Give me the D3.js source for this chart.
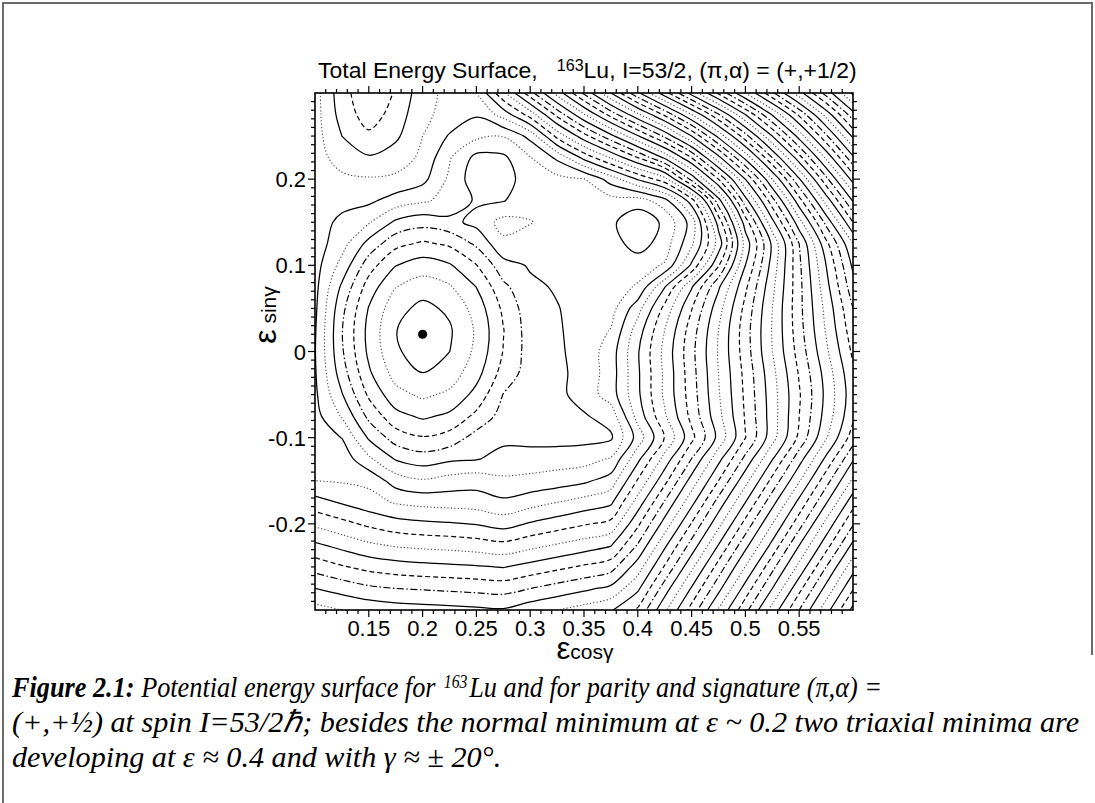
<!DOCTYPE html>
<html><head><meta charset="utf-8">
<script src="https://cdn.jsdelivr.net/npm/d3@7"></script>
<style>body{margin:0;background:#fff} svg{display:block} text{white-space:pre}</style>
</head><body>
<svg id="c" width="1095" height="803"></svg>
<script>
// ---------------- data ----------------
const xGrid = [0.100,0.125,0.150,0.175,0.200,0.225,0.250,0.275,0.300,0.325,0.350,0.375,0.400,0.425,0.450,0.475,0.500,0.525,0.550,0.575,0.600];
const yGrid = [0.300,0.275,0.250,0.225,0.200,0.175,0.150,0.125,0.100,0.075,0.050,0.025,0.000,-0.025,-0.050,-0.075,-0.100,-0.125,-0.150,-0.175,-0.200,-0.225,-0.250,-0.275,-0.300];
// relative total energy (in units of the contour spacing); rows follow yGrid, columns follow xGrid
const energyGrid = [
 [8.6,10.6,11.8,10.9,9.4,8.7,9.0,11.8,14.6,17.4,20.2,23.0,25.8,28.6,31.4,34.2,37.0,39.8,42.6,45.4,48.2],
 [8.6,10.4,11.5,10.6,9.2,8.7,8.1,9.4,11.45,14.3,16.9,19.4,21.8,24.2,27.0,29.9,33.0,36.1,39.2,42.4,45.6],
 [8.6,10.0,10.8,10.2,9.0,7.9,7.25,7.05,8.3,11.3,13.6,15.7,17.9,20.2,23.0,26.3,29.6,33.0,36.4,39.8,43.2],
 [8.6,9.4,9.9,9.5,8.8,7.1,5.7,5.8,6.95,8.2,10.3,12.1,14.0,16.2,19.0,22.7,26.3,30.0,33.6,37.2,40.8],
 [8.6,8.8,8.9,8.8,8.3,6.8,5.4,5.5,6.6,6.7,6.95,8.45,10.1,11.6,15.3,19.0,23.0,27.0,30.9,34.7,38.4],
 [8.7,8.4,8.2,7.56,7.14,6.7,5.86,5.95,6.6,6.6,6.6,6.6,6.49,7.6,10.5,15.6,20.6,24.6,28.6,32.4,36.1],
 [8.6,7.7,7.1,5.81,5.38,5.7,6.3,7.35,7.05,6.6,6.6,6.2,5.28,6.2,8.4,13.4,18.5,22.7,26.6,30.3,34.0],
 [8.5,7.4,5.65,4.3,3.83,4.17,5.18,6.77,6.5,6.6,6.6,6.47,5.54,6.47,8.8,12.4,17.4,21.2,25.0,28.7,32.0],
 [8.4,6.66,4.45,3.03,2.52,2.89,3.96,5.62,6.1,6.5,6.6,6.6,6.6,7.1,10.2,13.9,18.0,21.4,24.8,28.0,31.2],
 [8.3,5.82,3.54,2.03,1.48,1.88,3.02,4.76,5.8,6.1,6.5,6.6,7.1,9.95,12.9,15.85,18.8,21.75,24.7,27.65,30.6],
 [8.2,5.28,2.94,1.35,0.72,1.19,2.41,4.2,5.6,5.95,6.4,6.6,8.6,11.3,13.95,16.6,19.3,22.0,24.7,27.3,30.0],
 [8.1,5.05,2.69,1.04,0.32,0.87,2.14,3.96,5.5,5.9,6.35,7.05,9.5,12.0,14.5,17.0,19.55,22.06,24.6,27.1,29.6],
 [8.05,5.13,2.78,1.15,0.48,0.99,2.24,4.04,5.45,5.85,6.35,7.5,9.9,12.3,14.7,17.1,19.5,22.0,24.4,26.8,29.2],
 [8.1,5.48,3.16,1.6,1.01,1.45,2.63,4.4,5.45,5.8,6.3,7.5,9.84,12.2,14.6,17.0,19.3,21.7,24.1,26.4,28.8],
 [8.2,6.07,3.82,2.34,1.81,2.2,3.32,5.03,5.45,5.75,6.4,7.5,9.8,12.2,14.5,16.9,19.2,21.55,23.9,26.25,28.6],
 [8.35,6.91,4.73,3.32,2.83,3.2,4.25,5.4,5.45,5.55,5.9,6.4,9.4,11.85,14.3,16.7,19.1,21.5,24.0,26.4,28.8],
 [8.5,7.98,5.87,4.53,4.07,4.4,5.4,5.8,5.7,5.65,5.7,5.85,8.41,11.05,13.7,16.3,18.97,21.6,24.25,26.9,29.5],
 [8.7,8.6,7.22,5.93,5.49,5.82,5.95,6.3,6.4,6.5,6.6,7.12,9.76,12.4,15.04,17.7,20.3,22.96,25.6,28.24,30.9],
 [9.0,8.9,8.76,7.53,7.11,7.42,7.6,7.2,7.3,7.5,7.8,8.46,11.1,13.7,16.4,19.0,21.66,24.3,26.9,29.6,32.2],
 [10.4,9.9,9.4,8.9,8.7,8.6,8.5,8.2,8.6,9.0,9.4,9.81,12.45,15.1,17.7,20.4,23.0,25.65,28.3,30.9,33.6],
 [11.8,11.3,10.8,10.4,10.2,10.1,9.95,9.6,10.1,10.5,10.9,11.3,13.8,16.4,19.07,21.7,24.35,27.0,29.6,32.3,34.9],
 [13.2,12.7,12.2,11.9,11.75,11.65,11.5,11.3,11.7,12.1,12.5,12.94,15.1,17.8,20.4,23.05,25.7,28.3,31.0,33.6,36.25],
 [14.6,14.1,13.7,13.45,13.3,13.2,13.1,12.95,13.35,13.75,14.15,14.59,16.5,19.1,21.76,24.4,27.04,29.7,32.3,35.0,37.6],
 [16.0,15.6,15.2,15.0,14.9,14.8,14.7,14.6,15.0,15.4,15.8,16.24,17.8,20.5,23.1,25.7,28.4,31.0,33.7,36.3,38.9],
 [17.4,17.0,16.7,16.5,16.4,16.3,16.2,16.1,16.6,17.0,17.4,17.89,19.16,21.8,24.4,27.1,29.7,32.4,35.0,37.6,40.3]
];
const contourLevels = [1,2,3,4,5,6,7,8,9,10,11,12,13,14,15,16,17,18,19,20,21,22,23,24,25,26,27,28,29,30,31,32,33,34,35,36,37,38,39,40,41,42,43,44,45,46,47,48];
const styleCycle = ["solid","dotted","solid","dashed","dashdot"];
const styleOverrides = {9:"dotted", 10:"solid", 11:"dashed"};
const minimumPoint = [0.200, 0.020];
const xTicks = [0.15,0.2,0.25,0.3,0.35,0.4,0.45,0.5,0.55];
const xTickLabels = ["0.15","0.2","0.25","0.3","0.35","0.4","0.45","0.5","0.55"];
const yTicks = [-0.2,-0.1,0,0.1,0.2];
const yTickLabels = ["-0.2","-0.1","0","0.1","0.2"];

// ---------------- drawing ----------------
const svg = d3.select("#c");
const plot = {left:315, right:853, top:93, bottom:610};
const xs = d3.scaleLinear().domain([0.1,0.6]).range([plot.left, plot.right]);
const ys = d3.scaleLinear().domain([-0.3,0.3]).range([plot.bottom, plot.top]);

svg.append("path").attr("d","M3,803 L3,3 L1092,3 L1092,655")
  .attr("fill","none").attr("stroke","#6b6b6b").attr("stroke-width",2);

svg.append("defs").append("clipPath").attr("id","clip").append("rect")
  .attr("x",plot.left).attr("y",plot.top).attr("width",plot.right-plot.left).attr("height",plot.bottom-plot.top);

const nx = xGrid.length, ny = yGrid.length;
const values = energyGrid.flat();
const contours = d3.contours().size([nx, ny]).thresholds(contourLevels)(values);
const gx2x = g => xGrid[0] + (g - 0.5) * (xGrid[1] - xGrid[0]);
const gy2y = g => yGrid[0] + (g - 0.5) * (yGrid[1] - yGrid[0]);
const eps = 1e-6;
const inside = p => p[0] >= 0.5-eps && p[0] <= nx-0.5+eps && p[1] >= 0.5-eps && p[1] <= ny-0.5+eps;

const openLine = d3.line().x(p => xs(gx2x(p[0]))).y(p => ys(gy2y(p[1]))).curve(d3.curveCatmullRom.alpha(0.5));
const closedLine = d3.line().x(p => xs(gx2x(p[0]))).y(p => ys(gy2y(p[1]))).curve(d3.curveCatmullRomClosed.alpha(0.5));

const styleAttrs = {
  solid:  {stroke:"#000", w:1.25, dash:null},
  dotted: {stroke:"#444", w:1.1, dash:"1.2,2.2"},
  dashed: {stroke:"#000", w:1.2, dash:"5,3"},
  dashdot:{stroke:"#000", w:1.2, dash:"7,2.5,1.5,2.5"}
};
const styleOf = v => styleOverrides[v] || styleCycle[(contourLevels.indexOf(v)) % styleCycle.length];

const gC = svg.append("g").attr("clip-path","url(#clip)");
contours.forEach(c => {
  const st = styleAttrs[styleOf(c.value)];
  c.coordinates.forEach(poly => poly.forEach(ring => {
    const pts = ring.slice(0, -1);
    const segs = [];
    if (pts.every(inside)) segs.push({pts, closed:true});
    else {
      const k = pts.findIndex(p => !inside(p));
      const rot = pts.slice(k).concat(pts.slice(0, k));
      let cur = [];
      rot.forEach(p => {
        if (inside(p)) cur.push(p);
        else { if (cur.length > 1) segs.push({pts:cur, closed:false}); cur = []; }
      });
      if (cur.length > 1) segs.push({pts:cur, closed:false});
    }
    segs.forEach(s => {
      gC.append("path")
        .attr("d", s.closed ? closedLine(s.pts) : openLine(s.pts))
        .attr("fill","none").attr("stroke",st.stroke).attr("stroke-width",st.w)
        .attr("stroke-dasharray",st.dash).attr("stroke-linejoin","round");
    });
  }));
});

svg.append("circle").attr("cx",xs(minimumPoint[0])).attr("cy",ys(minimumPoint[1])).attr("r",4.6).attr("fill","#000");

svg.append("rect").attr("x",plot.left).attr("y",plot.top).attr("width",plot.right-plot.left)
  .attr("height",plot.bottom-plot.top).attr("fill","none").attr("stroke","#000").attr("stroke-width",1.6);

const minorX = d3.range(11, 60).map(v => v/100);
const minorY = d3.range(-29, 30).map(v => v/100);
const isMajor = (v, step) => Math.abs(Math.round(v/step)*step - v) < 1e-6;
const tg = svg.append("g").attr("stroke","#000").attr("stroke-width",1.2);
minorX.forEach(v => {
  const L = isMajor(v,0.05) ? 7 : 4;
  tg.append("line").attr("x1",xs(v)).attr("x2",xs(v)).attr("y1",plot.bottom).attr("y2",plot.bottom+L);
  tg.append("line").attr("x1",xs(v)).attr("x2",xs(v)).attr("y1",plot.top).attr("y2",plot.top-L);
});
minorY.forEach(v => {
  const L = isMajor(v,0.1) ? 7 : 4;
  tg.append("line").attr("y1",ys(v)).attr("y2",ys(v)).attr("x1",plot.left).attr("x2",plot.left-L);
  tg.append("line").attr("y1",ys(v)).attr("y2",ys(v)).attr("x1",plot.right).attr("x2",plot.right+L);
});

const sans = "'Liberation Sans', Arial, Helvetica, sans-serif";
xTicks.forEach((v,i) => {
  svg.append("text").attr("x",xs(v)).attr("y",636).attr("text-anchor","middle")
    .attr("font-family",sans).attr("font-size",22).text(xTickLabels[i]);
});
yTicks.forEach((v,i) => {
  svg.append("text").attr("x",306).attr("y",ys(v)+8).attr("text-anchor","end")
    .attr("font-family",sans).attr("font-size",22).text(yTickLabels[i]);
});

const xt = svg.append("text").attr("x",585).attr("y",659).attr("text-anchor","middle").attr("font-family",sans);
xt.append("tspan").attr("font-size",31).text("ε");
xt.append("tspan").attr("font-size",21).text("cosγ");
const yt = svg.append("text").attr("transform","translate(276,315) rotate(-90)").attr("text-anchor","middle").attr("font-family",sans);
yt.append("tspan").attr("font-size",32).text("ε");
yt.append("tspan").attr("font-size",21).text(" sinγ");

const title = svg.append("text").attr("x",318).attr("y",78).attr("font-family",sans);
const t1 = title.append("tspan").text("Total Energy Surface,   ");
const t2 = title.append("tspan").attr("dy",-7).text("163");
const t3 = title.append("tspan").attr("dy",7).text("Lu, I=53/2, (π,α) = (+,+1/2)");
function setTitle(fs){ t1.attr("font-size",fs); t2.attr("font-size",fs*0.7); t3.attr("font-size",fs); }
setTitle(20);
const tw = title.node().getComputedTextLength();
setTitle(20 * 539 / tw);

// caption
const serif = "'Liberation Serif', 'Times New Roman', Times, serif";
const c1 = svg.append("text").attr("x",12).attr("y",697).attr("font-family",serif).attr("font-style","italic");
c1.append("tspan").attr("font-weight","bold").text("Figure 2.1:");
c1.append("tspan").text(" Potential energy surface for ");
const sup = c1.append("tspan").attr("dy",-9).attr("dx",2).text("163");
c1.append("tspan").attr("dy",9).attr("dx",2).text("Lu and for parity and signature (π,α) =");
const c2 = svg.append("text").attr("x",12).attr("y",732).attr("font-family",serif).attr("font-style","italic")
  .text("(+,+½) at spin I=53/2ℏ; besides the normal minimum at ε ~ 0.2 two triaxial minima are");
const c3 = svg.append("text").attr("x",12).attr("y",767).attr("font-family",serif).attr("font-style","italic")
  .text("developing at ε ≈ 0.4 and with γ ≈ ± 20°.");
function setCap(fs){ [c1,c2,c3].forEach(t => t.attr("font-size",fs)); sup.attr("font-size",fs*0.6); }
setCap(22);
const cw = c2.node().getComputedTextLength();
setCap(22 * 1068 / cw);
const w1 = c1.node().getComputedTextLength();
if (w1 > 870) c1.attr("textLength",870).attr("lengthAdjust","spacingAndGlyphs");
</script>
</body></html>
